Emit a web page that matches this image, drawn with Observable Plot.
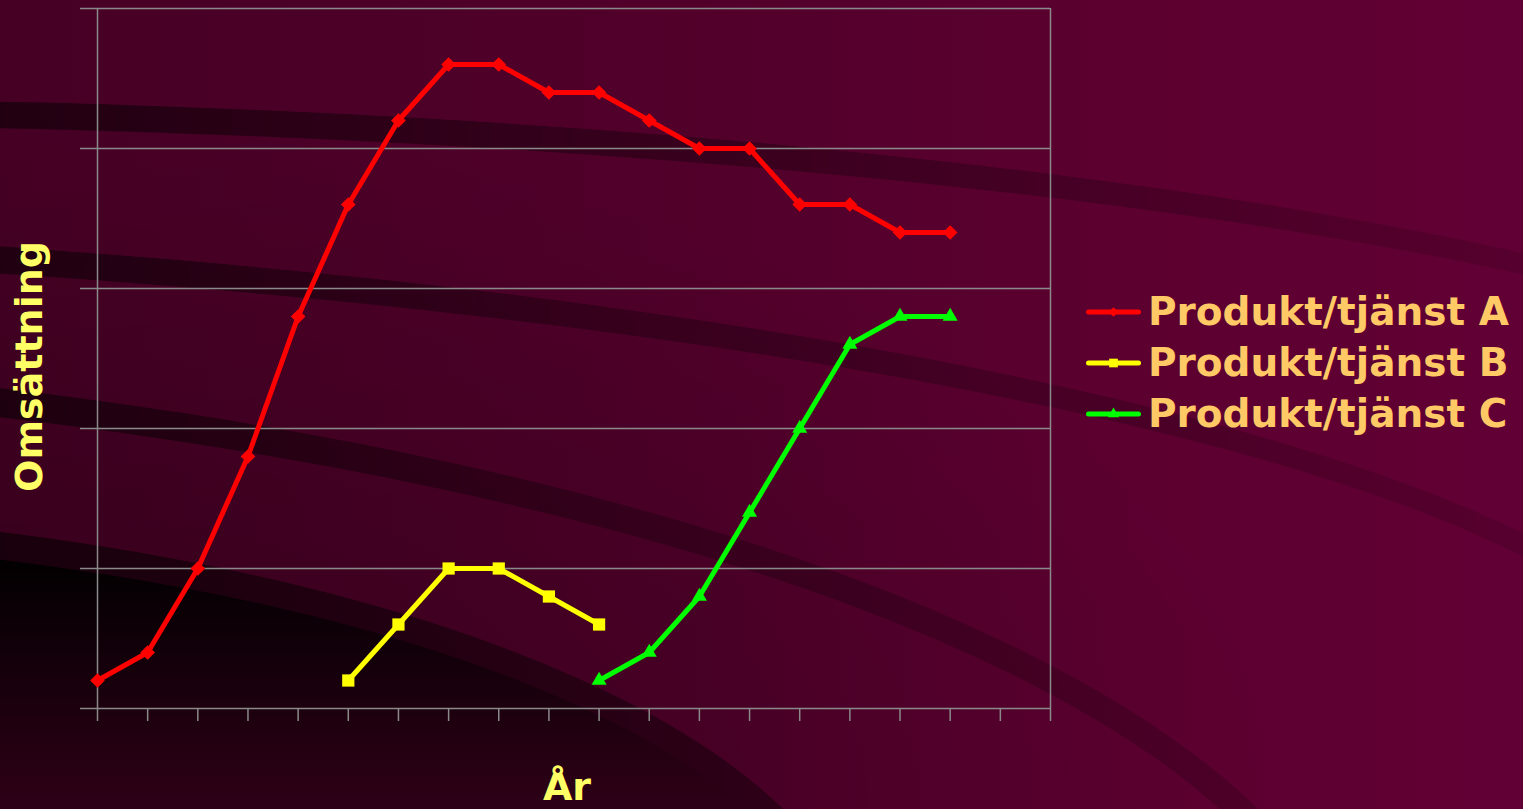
<!DOCTYPE html>
<html>
<head>
<meta charset="utf-8">
<script src="https://cdn.jsdelivr.net/npm/d3@7"></script>
<script src="https://cdn.jsdelivr.net/npm/@observablehq/plot@0.6"></script>
<style>
  html, body { margin: 0; padding: 0; width: 1523px; height: 809px; overflow: hidden; background: #4a0026; }
  #stage {
    position: relative; width: 1523px; height: 809px; overflow: hidden;
    background:
      radial-gradient(ellipse 1300px 700px at 0% 100%, rgba(0,0,0,0.3), rgba(0,0,0,0) 100%),
      linear-gradient(to right, #460024 0%, #51002a 45%, #5c0030 75%, #610034 100%);
  }
  #deco { position: absolute; left: 0; top: 0; width: 1523px; height: 809px; overflow: hidden; }
  .clip { position: absolute; left: 0; top: 0; width: 1523px; overflow: hidden; }
  .ring { position: absolute; box-sizing: border-box; border-radius: 50%; border-style: solid; }
  .fill { position: absolute; box-sizing: border-box; border-radius: 50%; }
  #chart { position: absolute; left: 0; top: 0; }
  #legend {
    position: absolute; left: 1086px; top: 286px;
    font-family: "DejaVu Sans", Verdana, sans-serif; font-weight: bold; font-size: 39px;
    color: #ffc966; white-space: nowrap;
  }
  .row { display: flex; align-items: center; height: 51px; line-height: 51px; }
  .row svg { margin-right: 7px; display: block; }
</style>
</head>
<body>
<div id="stage">
  <div id="deco"></div>
  <div id="chart"></div>
  <div id="legend"></div>
</div>
<script>
// ---- data ----
const slots = [0, 1, 2, 3, 4, 5, 6, 7, 8, 9, 10, 11, 12, 13, 14, 15, 16, 17, 18, 19];
const yTicks = [0, 1, 2, 3, 4, 5];
const seriesNames = ["Produkt/tjänst A", "Produkt/tjänst B", "Produkt/tjänst C"];
const seriesColors = ["#ff0000", "#ffff00", "#00ff00"];
const seriesSymbols = ["diamond2", "square", "triangle"];
const seriesStart = [0, 5, 10];
const valuesA = [0.2, 0.4, 1.0, 1.8, 2.8, 3.6, 4.2, 4.6, 4.6, 4.4, 4.4, 4.2, 4.0, 4.0, 3.6, 3.6, 3.4, 3.4];
const valuesB = [0.2, 0.6, 1.0, 1.0, 0.8, 0.6];
const valuesC = [0.2, 0.4, 0.8, 1.4, 2.0, 2.6, 2.8, 2.8];
const xTitle = "År";
const yTitle = "Omsättning";

// ---- decorative background swooshes (CSS only) ----
const deco = document.getElementById("deco");
function swoosh(cx, cy, rx, ry, w, color, fade) {
  const clip = document.createElement("div");
  clip.className = "clip";
  clip.style.height = Math.min(cy, 809) + "px";
  const el = document.createElement("div");
  el.className = "ring";
  const L = cx - rx - w / 2, T = cy - ry - w / 2;
  Object.assign(el.style, {left: L + "px", top: T + "px", width: (2 * rx + w) + "px",
    height: (2 * ry + w) + "px", borderWidth: w + "px", borderColor: color});
  const m = `linear-gradient(to right, #000 ${-L}px, rgba(0,0,0,${fade[0]}) ${-L + 600}px, rgba(0,0,0,${fade[1]}) ${-L + 1523}px)`;
  el.style.webkitMaskImage = m; el.style.maskImage = m;
  clip.appendChild(el);
  deco.appendChild(clip);
}
function darkFill(cx, cy, rx, ry) {
  const el = document.createElement("div");
  el.className = "fill";
  const T = cy - ry;
  Object.assign(el.style, {left: (cx - rx) + "px", top: T + "px", width: 2 * rx + "px", height: 2 * ry + "px",
    background: `linear-gradient(to bottom, #020001 ${560 - T}px, #2e0017 ${809 - T}px)`});
  deco.appendChild(el);
}
swoosh(-300, 501, 2300, 390, 27, "rgba(12,0,6,0.62)", [0.62, 0.2]);
swoosh(-800, 727, 2500, 493, 28, "rgba(12,0,6,0.62)", [0.55, 0.2]);
swoosh(-700, 1023, 2050, 660, 30, "rgba(12,0,6,0.65)", [0.5, 0.2]);
darkFill(-400, 972, 1250 - 14, 450 - 14);
swoosh(-400, 972, 1250, 450, 28, "rgba(5,0,2,0.62)", [0.7, 0.4]);

// ---- chart ----
const seriesValues = [valuesA, valuesB, valuesC];
const tables = seriesValues.map((vals, s) =>
  vals.map((v, i) => ({series: seriesNames[s], slot: slots[seriesStart[s] + i], value: v})));

const gridColor = "#8a8a8a";
const symbolR = [6.6, 6.9, 5.6];
const font = "DejaVu Sans";

const seriesMarks = [];
tables.forEach((rows, s) => {
  seriesMarks.push(Plot.line(rows, {x: "slot", y: "value", stroke: seriesColors[s], strokeWidth: 5}));
});
tables.forEach((rows, s) => {
  seriesMarks.push(Plot.dot(rows, {x: "slot", y: "value", fill: seriesColors[s], stroke: "none",
    symbol: () => seriesSymbols[s], r: symbolR[s]}));
});

const chart = Plot.plot({
  width: 1523, height: 809,
  marginLeft: 97, marginRight: 473, marginTop: 8, marginBottom: 101,
  style: {background: "transparent", overflow: "visible"},
  x: {type: "linear", domain: [slots[0], slots[slots.length - 1]]},
  y: {type: "linear", domain: [yTicks[0], yTicks[yTicks.length - 1]]},
  symbol: {type: "identity"},
  marks: [
    Plot.gridY(yTicks.slice(1), {stroke: gridColor, strokeOpacity: 1, strokeWidth: 1.5}),
    Plot.axisY(yTicks, {tickSize: 17, tickFormat: () => "", stroke: gridColor, strokeOpacity: 1, strokeWidth: 1.5, label: null}),
    Plot.axisX(slots, {tickSize: 13, tickFormat: () => "", stroke: gridColor, strokeOpacity: 1, strokeWidth: 1.5, label: null}),
    Plot.ruleX([slots[0], slots[slots.length - 1]], {stroke: gridColor, strokeWidth: 1.5}),
    Plot.ruleY([yTicks[0]], {stroke: gridColor, strokeWidth: 1.5}),
    ...seriesMarks,
    Plot.text([yTitle], {text: d => d, frameAnchor: "left", textAnchor: "middle", dx: -68, dy: 8, rotate: -90,
      fill: "#ffff66", fontSize: 38, fontWeight: "bold", fontFamily: font}),
    Plot.text([xTitle], {text: d => d, frameAnchor: "bottom", textAnchor: "middle", dx: -7, dy: 91, lineAnchor: "bottom",
      fill: "#ffff66", fontSize: 38, fontWeight: "bold", fontFamily: font})
  ]
});
document.getElementById("chart").appendChild(chart);

// ---- legend ----
const symbolTypes = {diamond2: d3.symbolDiamond2, square: d3.symbolSquare, triangle: d3.symbolTriangle};
const legendSizes = [60, 75, 55];
const legend = d3.select("#legend");
seriesNames.forEach((name, s) => {
  const row = legend.append("div").attr("class", "row");
  const svg = row.append("svg").attr("width", 55).attr("height", 20);
  svg.append("line").attr("x1", 2.5).attr("x2", 52.5).attr("y1", 10).attr("y2", 10)
    .attr("stroke", seriesColors[s]).attr("stroke-width", 5).attr("stroke-linecap", "round");
  svg.append("path").attr("transform", "translate(27.5,10)")
    .attr("d", d3.symbol(symbolTypes[seriesSymbols[s]], legendSizes[s])())
    .attr("fill", seriesColors[s]);
  row.append("span").text(name);
});
</script>
</body>
</html>
